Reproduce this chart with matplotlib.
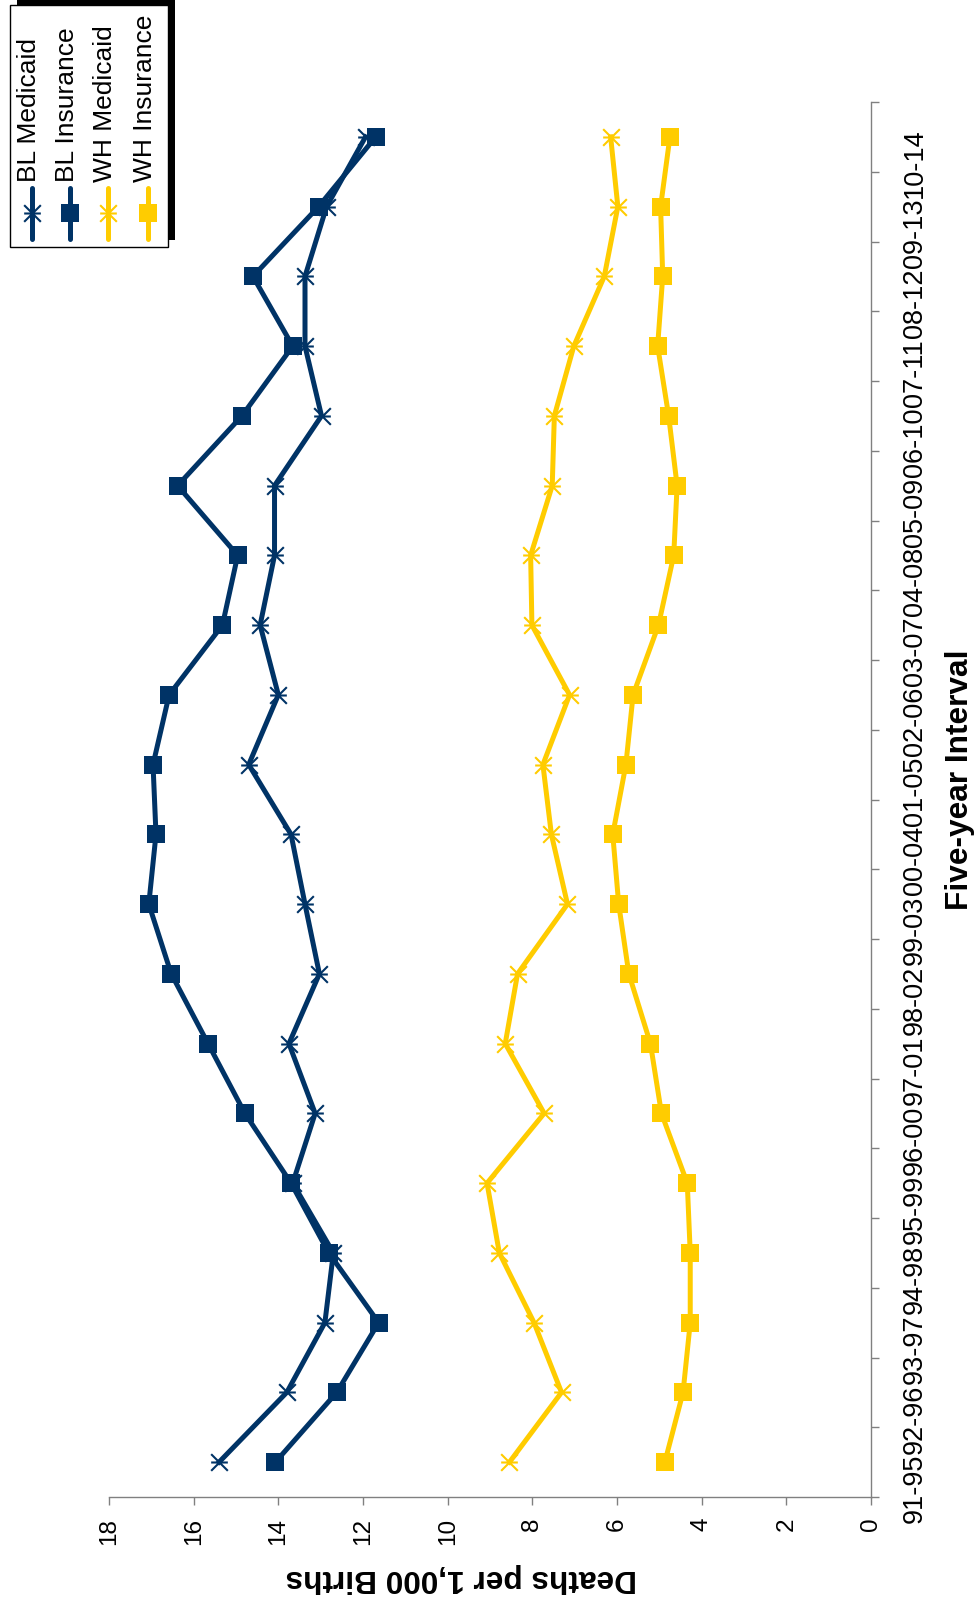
import numpy as np
import matplotlib.pyplot as plt
from matplotlib.path import Path
from matplotlib.patches import Rectangle

plt.rcParams['font.family'] = ['Liberation Sans', 'DejaVu Sans']

# Data (deaths per 1,000 births by five-year interval)
intervals = ['91-95', '92-96', '93-97', '94-98', '95-99', '96-00', '97-01',
             '98-02', '99-03', '00-04', '01-05', '02-06', '03-07', '04-08',
             '05-09', '06-10', '07-11', '08-12', '09-13', '10-14']
bl_medicaid = [15.4, 13.8, 12.9, 12.7, 13.66, 13.13, 13.75, 13.03, 13.37, 13.7,
               14.7, 14.0, 14.43, 14.09, 14.09, 12.98, 13.37, 13.37, 12.86, 11.94]
bl_insurance = [14.07, 12.62, 11.63, 12.81, 13.7, 14.79, 15.66, 16.53, 17.06, 16.89,
                16.96, 16.58, 15.32, 14.96, 16.38, 14.86, 13.66, 14.6, 13.05, 11.7]
wh_medicaid = [8.54, 7.31, 7.96, 8.78, 9.07, 7.72, 8.64, 8.35, 7.17, 7.55,
               7.75, 7.12, 8.01, 8.04, 7.53, 7.48, 7.02, 6.3, 5.98, 6.15]
wh_insurance = [4.87, 4.44, 4.27, 4.27, 4.34, 4.95, 5.21, 5.72, 5.96, 6.1,
                5.79, 5.62, 5.02, 4.66, 4.58, 4.78, 5.04, 4.92, 4.97, 4.75]
series_names = ['BL Medicaid', 'BL Insurance', 'WH Medicaid', 'WH Insurance']

NAVY = '#003366'
GOLD = '#FFCC00'
GREY = '#808080'

# Excel "star" marker, turned a quarter (x with a bar across)
star = Path([(-1, -1), (1, 1), (-1, 1), (1, -1), (-1, 0), (1, 0)],
            [Path.MOVETO, Path.LINETO, Path.MOVETO, Path.LINETO, Path.MOVETO, Path.LINETO])

styles = [
    dict(color=NAVY, marker=star, ms=12, mew=1.5, mfc='none'),
    dict(color=NAVY, marker='s', ms=13, mew=0),
    dict(color=GOLD, marker=star, ms=12, mew=1.5, mfc='none'),
    dict(color=GOLD, marker='s', ms=13, mew=0),
]

W, H = 977, 1604
fig = plt.figure(figsize=(W / 100, H / 100), dpi=100)
ax = fig.add_axes([109 / W, 1 - 1497 / H, (871 - 109) / W, (1497 - 102) / H])

pos = np.arange(len(intervals))
for vals, st in zip([bl_medicaid, bl_insurance, wh_medicaid, wh_insurance], styles):
    ax.plot(vals, pos, lw=3.6, solid_joinstyle='round', **st)

# value axis runs along the bottom, 18 on the left
ax.set_xlim(18, 0)
ax.set_xticks(range(0, 19, 2))
ax.tick_params(axis='x', direction='out', length=6, width=1, color=GREY,
               labelsize=17.5, labelrotation=90, pad=9)

# category axis on the right
ax.set_ylim(-0.5, len(intervals) - 0.5)
ax.yaxis.tick_right()
ax.set_yticks(np.arange(-0.5, len(intervals), 1))
ax.set_yticklabels([])
ax.set_yticks(pos - 0.38, minor=True)
ax.set_yticklabels(intervals, minor=True)
ax.tick_params(axis='y', which='major', direction='out', length=6, width=1, color=GREY)
ax.tick_params(axis='y', which='minor', length=0, labelsize=19.5, labelrotation=90, pad=22)
for lab in ax.get_yticklabels(minor=True):
    lab.set_va('center')

for s in ['top', 'left']:
    ax.spines[s].set_visible(False)
for s in ['bottom', 'right']:
    ax.spines[s].set_color(GREY)
    ax.spines[s].set_linewidth(1)

fig.text(461 / W, 1 - 1578 / H, 'Deaths per 1,000 Births', rotation=180,
         ha='center', va='center', fontsize=22.8, fontweight='bold')
fig.text(960 / W, 1 - 780 / H, 'Five-year Interval', rotation=90,
         ha='center', va='center', fontsize=22.8, fontweight='bold')

# legend, drawn turned like the rest of the chart
lax = fig.add_axes([0, 0, 1, 1], zorder=5)
lax.set_xlim(0, W)
lax.set_ylim(H, 0)
lax.axis('off')
lax.add_patch(Rectangle((17, -2), 158, 242, facecolor='black', edgecolor='none'))
lax.add_patch(Rectangle((10, 5), 158, 242, facecolor='white', edgecolor='black', lw=1))
for name, st, xc in zip(series_names, styles, [32, 70, 108, 148]):
    lax.plot([xc, xc], [188, 239], color=st['color'], lw=3.6, solid_capstyle='round')
    mk = {k: v for k, v in st.items() if k != 'color'}
    lax.plot([xc], [213], color=st['color'], ls='none', **mk)
    lax.text(xc - 3, 182, name, rotation=90, rotation_mode='anchor',
             ha='left', va='center', fontsize=19)

fig.savefig('out.png', dpi=100)
